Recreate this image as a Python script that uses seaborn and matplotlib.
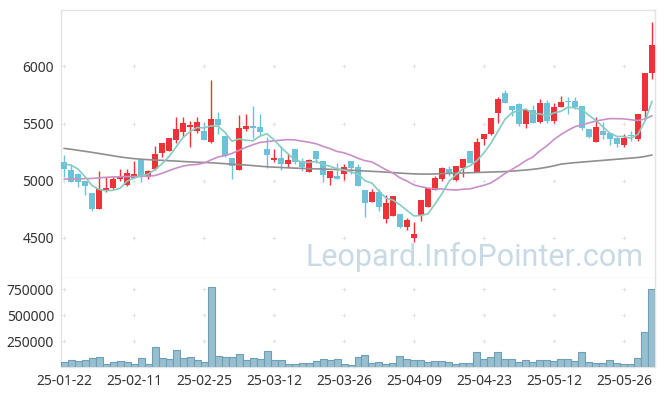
import numpy as np
import pandas as pd
import matplotlib
matplotlib.use("Agg")
import matplotlib.pyplot as plt
import seaborn as sns

# ---------------- data ----------------
tick_labels = ['25-01-22', '25-02-11', '25-02-25', '25-03-12', '25-03-26',
               '25-04-09', '25-04-23', '25-05-12', '25-05-26']
tick_index = [0, 10, 20, 30, 40, 50, 60, 70, 80]

opens = [5161, 5094, 5059, 4997, 4892, 4753, 4919, 4936, 5017, 4964,
         5026, 5181, 5030, 5100, 5245, 5262, 5356, 5428, 5469, 5434,
         5434, 5336, 5539, 5391, 5198, 5098, 5454, 5478, 5467, 5277,
         5181, 5198, 5146, 5277, 5170, 5079, 5260, 5170, 5026, 5041,
         5063, 5170, 5117, 4919, 4816, 4904, 4665, 4694, 4709, 4593,
         4499, 4703, 4773, 4919, 5012, 5100, 5006, 5114, 5260, 5079,
         5367, 5405, 5594, 5764, 5653, 5668, 5496, 5618, 5516, 5677,
         5524, 5647, 5697, 5697, 5653, 5452, 5341, 5434, 5414, 5376,
         5312, 5399, 5362, 5612, 5944]
closes = [5100, 4991, 4991, 4956, 4753, 4927, 4936, 5012, 5041, 5067,
          5059, 5035, 5085, 5233, 5327, 5373, 5452, 5504, 5487, 5510,
          5358, 5539, 5484, 5219, 5128, 5458, 5478, 5463, 5426, 5225,
          5198, 5146, 5181, 5168, 5122, 5181, 5192, 5052, 5085, 5015,
          5122, 5108, 4956, 4802, 4904, 4773, 4808, 4866, 4598, 4656,
          4534, 4831, 4934, 5026, 5111, 5067, 5128, 5190, 5157, 5338,
          5408, 5548, 5714, 5677, 5622, 5500, 5618, 5507, 5677, 5522,
          5642, 5685, 5688, 5642, 5458, 5379, 5472, 5399, 5367, 5318,
          5376, 5391, 5580, 5939, 6186]
highs = [5225, 5137, 5065, 5000, 4895, 5087, 5030, 5044, 5100, 5102,
         5170, 5185, 5090, 5303, 5330, 5375, 5554, 5554, 5524, 5554,
         5516, 5876, 5598, 5395, 5200, 5574, 5580, 5650, 5583, 5382,
         5277, 5303, 5233, 5280, 5203, 5190, 5262, 5172, 5088, 5155,
         5142, 5172, 5142, 4922, 4925, 4927, 4875, 4870, 4712, 4677,
         4642, 4835, 4936, 5041, 5122, 5131, 5132, 5192, 5262, 5371,
         5410, 5552, 5734, 5793, 5655, 5676, 5624, 5666, 5711, 5705,
         5677, 5740, 5729, 5729, 5655, 5455, 5554, 5516, 5416, 5378,
         5405, 5434, 5582, 5940, 6390]
lows = [5035, 4985, 4942, 4875, 4735, 4750, 4904, 4930, 5000, 4955,
        5020, 4989, 5015, 5095, 5205, 5258, 5332, 5385, 5297, 5414,
        5355, 5327, 5408, 5210, 5012, 5095, 5432, 5373, 5395, 5111,
        5168, 5098, 5122, 5142, 5085, 5075, 5159, 4993, 4960, 5012,
        5006, 5059, 4954, 4680, 4814, 4738, 4633, 4690, 4587, 4569,
        4464, 4650, 4770, 4917, 5000, 5044, 5000, 5035, 5155, 5077,
        5309, 5400, 5502, 5675, 5568, 5474, 5458, 5505, 5502, 5504,
        5502, 5645, 5583, 5624, 5443, 5375, 5336, 5364, 5312, 5297,
        5297, 5350, 5350, 5530, 5886]
volumes = [51000, 64000, 55000, 64000, 84000, 93000, 26000, 45000, 55000, 45000,
           26000, 84000, 26000, 189000, 84000, 74000, 161000, 84000, 93000, 64000,
           45000, 772000, 103000, 93000, 93000, 122000, 64000, 84000, 74000, 151000,
           64000, 64000, 26000, 26000, 36000, 36000, 55000, 74000, 64000, 74000,
           26000, 16000, 93000, 112000, 36000, 45000, 26000, 36000, 103000, 74000,
           64000, 64000, 45000, 55000, 55000, 45000, 26000, 36000, 36000, 141000,
           74000, 93000, 141000, 74000, 74000, 45000, 64000, 45000, 64000, 64000,
           55000, 74000, 74000, 55000, 141000, 45000, 36000, 36000, 64000, 36000,
           26000, 26000, 84000, 339000, 757000]
# closes before the visible window (estimated so the 5-day line matches)
prior_closes = [5036, 5166, 5291, 5137]
# 20-day average where its window reaches before the visible data
ma20_head = [5015, 5016, 5017, 5018, 5020, 5025, 5030, 5033, 5035, 5036,
             5037, 5038, 5040, 5045, 5065, 5088, 5110, 5128, 5138]
# 60-day average as drawn
ma60 = [5283, 5275, 5266, 5257, 5248, 5238, 5228, 5218, 5208, 5200,
        5193, 5188, 5184, 5181, 5178, 5175, 5172, 5168, 5165, 5162,
        5160, 5157, 5153, 5149, 5145, 5141, 5137, 5132, 5127, 5122,
        5119, 5116, 5113, 5110, 5108, 5106, 5104, 5102, 5100, 5098,
        5095, 5092, 5088, 5085, 5082, 5079, 5075, 5071, 5067, 5063,
        5060, 5058, 5058, 5059, 5062, 5064, 5066, 5068, 5070, 5072,
        5074, 5076, 5078, 5080, 5084, 5089, 5094, 5100, 5108, 5118,
        5130, 5145, 5152, 5158, 5163, 5168, 5173, 5178, 5183, 5188,
        5193, 5198, 5203, 5212, 5225]
price_ticks = [4500, 5000, 5500, 6000]
volume_ticks = [250000, 500000, 750000]

# ---------------- derived ----------------
n = len(closes)
idx = np.arange(n)
ext = pd.Series(prior_closes + closes, dtype=float)
ma5 = ext.rolling(5).mean().to_numpy()[len(prior_closes):]
ma20 = pd.Series(closes, dtype=float).rolling(20).mean().to_numpy()
ma20[:len(ma20_head)] = ma20_head

df = pd.DataFrame({"i": idx, "open": opens, "high": highs, "low": lows,
                   "close": closes, "volume": volumes,
                   "ma5": ma5, "ma20": ma20, "ma60": ma60})

# ---------------- style ----------------
sns.set_theme(style="white")
plt.rcParams["font.family"] = ["Noto Sans", "DejaVu Sans"]

UP = "#ee3237"
DOWN = "#6cc3d9"
SPINE = "#e3e3e3"
TXT = "#333333"

W, H = 665, 396
fig = plt.figure(figsize=(W / 100, H / 100), dpi=100)
fig.patch.set_facecolor("white")


def px_axes(l, t, r, b):
    return fig.add_axes([l / W, 1 - b / H, (r - l) / W, (b - t) / H])


ax = px_axes(61, 10, 655, 278)
axv = px_axes(61, 278, 655, 367)

xlim = (-0.43, n - 1 + 0.43)

# ---------------- candles ----------------
up = df["close"] >= df["open"]
cols = np.where(up, UP, DOWN)
ax.vlines(df["i"], df["low"], df["high"], colors=cols, linewidth=1.0, zorder=2)
body_lo = np.minimum(df["open"], df["close"])
body_h = np.maximum((df["close"] - df["open"]).abs(), 9)
ax.bar(df["i"], body_h, bottom=body_lo, width=0.72, color=cols,
       linewidth=0, zorder=3)

# ---------------- moving averages ----------------
sns.lineplot(data=df, x="i", y="ma60", ax=ax, color="#8f8f8f", linewidth=1.2,
             zorder=4)
sns.lineplot(data=df, x="i", y="ma20", ax=ax, color="#c98fc9", linewidth=1.2,
             zorder=4)
sns.lineplot(data=df, x="i", y="ma5", ax=ax, color="#86cbc0", linewidth=1.2,
             zorder=4)

ax.set_xlim(*xlim)
ax.set_ylim(4150, 6492)
ax.set_yticks(price_ticks)
ax.set_yticklabels([str(t) for t in price_ticks])
ax.set_xticks(tick_index)
ax.set_xticklabels([])
ax.set_xlabel("")
ax.set_ylabel("")

# ---------------- volume ----------------
sns.barplot(x=idx, y=volumes, ax=axv, color="#97bfd0", saturation=1,
            width=1.0, edgecolor="#6e9fb5", linewidth=0.8, zorder=3)
axv.set_xlim(*xlim)
axv.set_ylim(0, 860000)
axv.set_yticks(volume_ticks)
axv.set_yticklabels([str(t) for t in volume_ticks])
axv.set_xticks(tick_index)
axv.set_xticklabels(tick_labels)
axv.set_xlabel("")
axv.set_ylabel("")

# grid "+" marks at tick crossings
for a, yt in ((ax, price_ticks), (axv, volume_ticks)):
    gx, gy = np.meshgrid(tick_index, yt)
    a.plot(gx.ravel(), gy.ravel(), linestyle="none", marker="+",
           markersize=3.5, markeredgewidth=0.7, color="#e2e2e2", zorder=1)

for a in (ax, axv):
    a.set_facecolor("white")
    for s in a.spines.values():
        s.set_color(SPINE)
        s.set_linewidth(1.0)
    a.tick_params(axis="both", length=0, labelsize=10, colors=TXT, pad=5)
axv.spines["top"].set_visible(False)

# watermark
ax.text(0.697, 0.045, "Leopard.InfoPointer.com", transform=ax.transAxes,
        ha="center", va="baseline", fontsize=22, color="#c7dae6",
        family=["Roboto", "DejaVu Sans"], zorder=0)

fig.savefig("out.png", dpi=100, facecolor="white")
